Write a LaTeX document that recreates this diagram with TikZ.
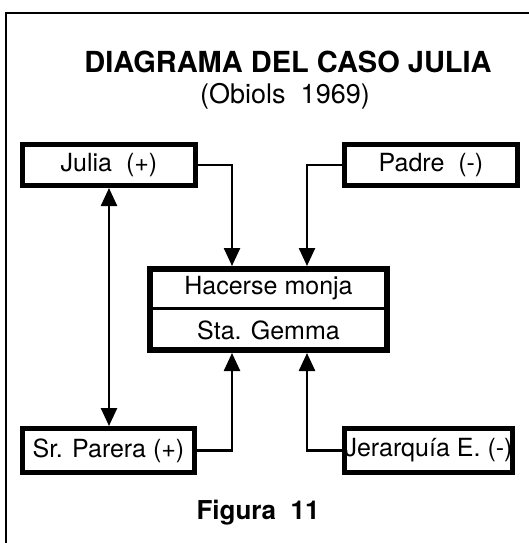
\documentclass[tikz,border=0pt]{standalone}
\usepackage{fontspec}
\setmainfont{TeX Gyre Heros}
\usetikzlibrary{arrows.meta}
\begin{document}
\begin{tikzpicture}[x=1pt,y=-1pt,
  box/.style={draw, line width=5pt, inner sep=0pt, align=center,
    font=\fontsize{25}{28}\selectfont},
  txt/.style={inner sep=0pt, font=\fontsize{25}{28}\selectfont},
  link/.style={line width=2.5pt, -{Triangle[width=16pt,length=18pt]}},
  both/.style={line width=2.5pt, {Triangle[width=16pt,length=18pt]}-{Triangle[width=16pt,length=18pt]}}]
\useasboundingbox (0,0) rectangle (529,543);
% frame (left and top only)
\draw[line width=2.2pt] (6,543) -- (6,13) -- (529,13);
% titles
\node[font=\fontsize{29}{32}\selectfont\bfseries] (title) at (288,62) {DIAGRAMA DEL CASO JULIA};
\node[font=\fontsize{27}{30}\selectfont] (sub) at (285,96) {(Obiols~~1969)};
% boxes
\node[box, minimum width=173pt, minimum height=41pt] (julia) at (109,165) {Julia~~(+)};
\node[box, minimum width=173pt, minimum height=41pt] (padre) at (431,165) {Padre~~(-)};
\node[box, minimum width=172pt, minimum height=44pt] (parera) at (108.5,450.5) {Sr. Parera (+)};
\node[box, minimum width=168pt, minimum height=44pt] (jerar) at (428.5,450.5) {Jerarquía E. (-)};
% central box
\node[draw, line width=6pt, minimum width=237pt, minimum height=81pt, inner sep=0pt] (goal) at (268.5,309.5) {};
\draw[line width=3pt] (goal.west |- 0,308) -- (goal.east |- 0,308);
\node[txt] (hm) at (268.5,288) {Hacerse monja};
\node[txt] (sg) at (268.5,330) {Sta. Gemma};
% connector columns
\coordinate (jx) at (232,0);
\coordinate (px) at (307,0);
\draw[link] (julia.east) -| (jx |- goal.north);
\draw[link] (padre.west) -| (px |- goal.north);
\draw[link] (parera.east) -| (jx |- goal.south);
\draw[link] (jerar.west) -| (px |- goal.south);
\draw[both] (julia.south) -- (julia.south |- parera.north);
% caption
\node[font=\fontsize{26}{30}\selectfont\bfseries] (fig) at (258,513) {Figura~~11};
\end{tikzpicture}
\end{document}
